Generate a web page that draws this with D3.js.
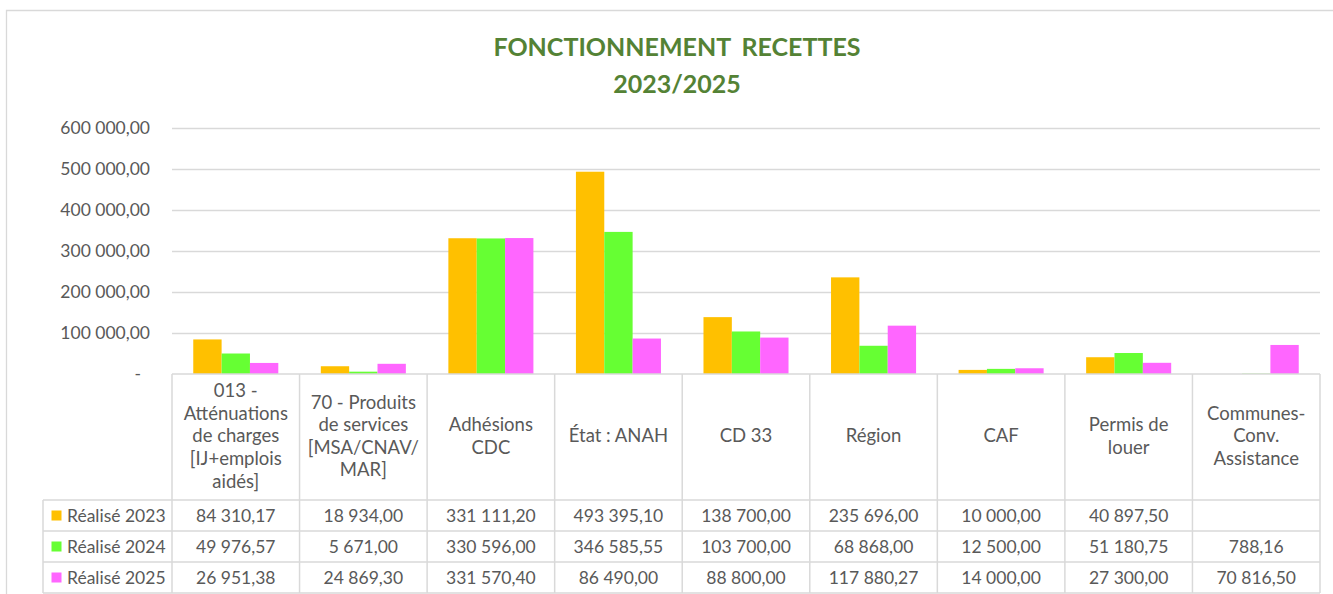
<!DOCTYPE html>
<html><head><meta charset="utf-8">
<script src="https://cdn.jsdelivr.net/npm/d3@7"></script>
<style>
body{margin:0;background:#fff}
svg{display:block}
text{font-family:Lato,"Open Sans",sans-serif}
</style>
</head><body>
<svg id="c" width="1333" height="594"></svg>
<script>
const titleLines = ["FONCTIONNEMENT RECETTES", "2023/2025"];
const categories = [
  "013 -\nAtténuations\nde charges\n[IJ+emplois\naidés]",
  "70 - Produits\nde services\n[MSA/CNAV/\nMAR]",
  "Adhésions\nCDC",
  "État : ANAH",
  "CD 33",
  "Région",
  "CAF",
  "Permis de\nlouer",
  "Communes-\nConv.\nAssistance"
];
const seriesNames = ["Réalisé 2023", "Réalisé 2024", "Réalisé 2025"];
const realise2023 = [84310.17, 18934.00, 331111.20, 493395.10, 138700.00, 235696.00, 10000.00, 40897.50, null];
const realise2024 = [49976.57, 5671.00, 330596.00, 346585.55, 103700.00, 68868.00, 12500.00, 51180.75, 788.16];
const realise2025 = [26951.38, 24869.30, 331570.40, 86490.00, 88800.00, 117880.27, 14000.00, 27300.00, 70816.50];
const yTicks = [0, 100000, 200000, 300000, 400000, 500000, 600000];
const seriesColors = ["#FFC000", "#66FF33", "#FF66FF"];

(function () {
const seriesValues = [realise2023, realise2024, realise2025];

const svg = d3.select("#c");
const W = 1333, H = 594;
const pL = 172, pR = 1320, pT = 128, pB = 374;
const rowH = 31, headerBottom = 500, tableLeft = 43;
const gridColor = "#d9d9d9", textColor = "#595959";

const loc = d3.formatLocale({decimal: ",", thousands: "\u00a0", grouping: [3], currency: ["", ""]});
const fmt = loc.format(",.2f");

// frame
svg.append("path").attr("d", `M6.5,${H} V10.5 H${W}`).attr("fill", "none").attr("stroke", gridColor).attr("stroke-width", 1.3);

// title
svg.append("g").selectAll("text").data(titleLines).join("text")
  .attr("x", 677).attr("y", (d, i) => 55.5 + i * 37)
  .attr("text-anchor", "middle")
  .attr("font-weight", 700).attr("font-size", 25).attr("word-spacing", 5).attr("fill", "#548235")
  .text(d => d);

const y = d3.scaleLinear().domain([0, 600000]).range([pB, pT]);
const x0 = d3.scaleBand().domain(d3.range(categories.length)).range([pL, pR]).paddingInner(1/3).paddingOuter(1/6);
const x1 = d3.scaleBand().domain(d3.range(seriesNames.length)).range([0, x0.bandwidth()]);
const step = x0.step();
const colStart = i => x0(i) - (step - x0.bandwidth()) / 2;

// y axis + gridlines
const yAxis = svg.append("g").attr("transform", `translate(${pL},0)`)
  .call(d3.axisLeft(y).tickValues(yTicks).tickSize(-(pR - pL)).tickPadding(22)
    .tickFormat(d => d === 0 ? "-" : fmt(d)));
yAxis.select(".domain").remove();
yAxis.selectAll(".tick line").attr("stroke", gridColor).attr("stroke-width", 1.3);
yAxis.selectAll(".tick text").attr("fill", textColor).attr("font-size", 17.5).attr("font-family", "Lato,sans-serif");
yAxis.selectAll(".tick").filter(d => d === 0).select("text").attr("x", -31);
yAxis.selectAll(".tick").filter(d => d === 0).select("line").remove();

// bars
const barData = [];
categories.forEach((c, i) => seriesValues.forEach((vals, s) => {
  if (vals[i] != null) barData.push({i, s, v: vals[i]});
}));
svg.append("g").selectAll("rect").data(barData).join("rect")
  .attr("x", d => x0(d.i) + x1(d.s))
  .attr("width", x1.bandwidth())
  .attr("y", d => y(d.v))
  .attr("height", d => y(0) - y(d.v))
  .attr("fill", d => seriesColors[d.s]);

// data table
const tbl = svg.append("g").attr("stroke", gridColor).attr("stroke-width", 1.5).attr("fill", "none");
const tableBottom = Math.min(headerBottom + rowH * seriesNames.length, H - 1);
tbl.append("line").attr("x1", pL).attr("x2", pR).attr("y1", pB).attr("y2", pB);
for (let r = 0; r <= seriesNames.length; r++) {
  const yy = Math.min(headerBottom + r * rowH, H - 1);
  tbl.append("line").attr("x1", tableLeft).attr("x2", pR).attr("y1", yy).attr("y2", yy);
}
for (let i = 0; i <= categories.length; i++) {
  const xx = colStart(0) + i * step;
  tbl.append("line").attr("x1", xx).attr("x2", xx).attr("y1", pB).attr("y2", tableBottom);
}
tbl.append("line").attr("x1", tableLeft).attr("x2", tableLeft).attr("y1", headerBottom).attr("y2", tableBottom);

// header labels
const lineH = 22.6;
const hdr = svg.append("g").attr("fill", textColor).attr("font-size", 18.5).attr("text-anchor", "middle");
categories.forEach((c, i) => {
  const lines = c.split("\n");
  const cx = colStart(i) + step / 2;
  const cy = (pB + headerBottom) / 2 - 1;
  const y0 = cy - (lines.length - 1) * lineH / 2;
  const t = hdr.append("text");
  lines.forEach((l, k) => t.append("tspan").attr("x", cx).attr("y", y0 + k * lineH).attr("dy", "0.35em").text(l));
});

// rows
const rows = svg.append("g").attr("font-size", 17.5).attr("fill", textColor);
seriesNames.forEach((name, s) => {
  const cy = headerBottom + s * rowH + rowH / 2;
  rows.append("rect").attr("x", 51.5).attr("y", cy - 5).attr("width", 10).attr("height", 10).attr("fill", seriesColors[s]);
  rows.append("text").attr("x", 67).attr("y", cy).attr("dy", "0.35em").text(name);
  seriesValues[s].forEach((v, i) => {
    if (v == null) return;
    rows.append("text").attr("x", colStart(i) + step / 2).attr("y", cy).attr("dy", "0.35em")
      .attr("text-anchor", "middle").text(fmt(v));
  });
});
})();
</script>
</body></html>
